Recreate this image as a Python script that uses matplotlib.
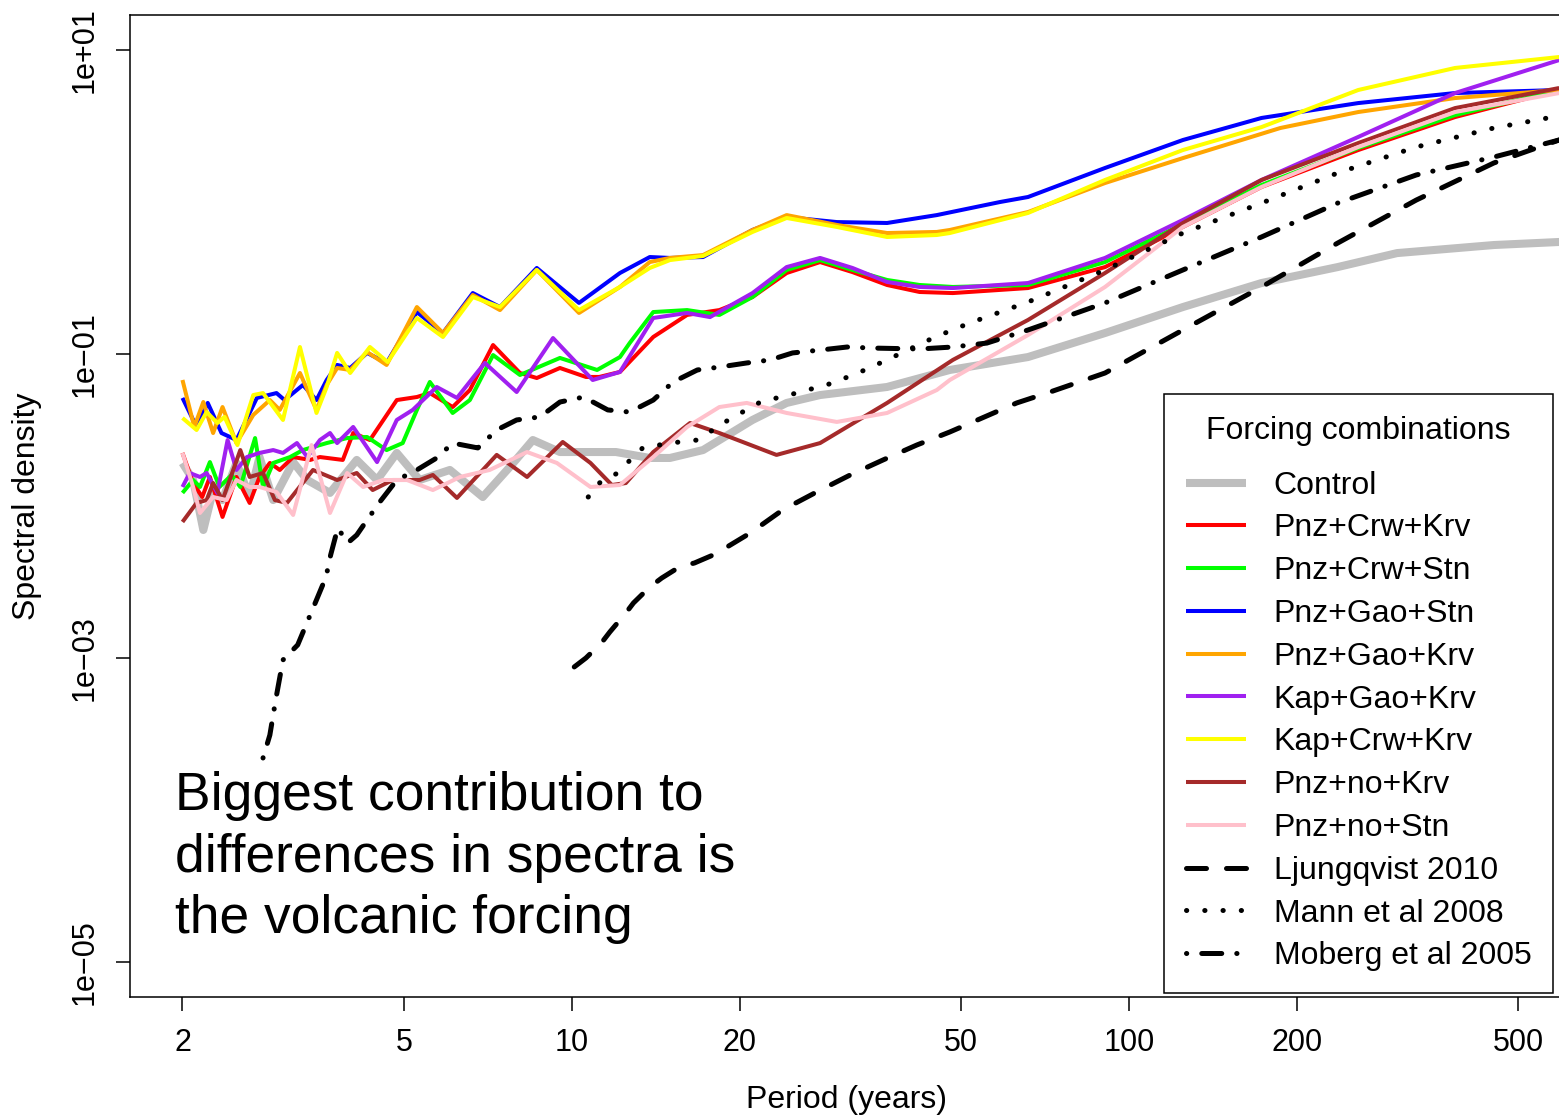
import numpy as np
import matplotlib
matplotlib.use('Agg')
import matplotlib.pyplot as plt
from matplotlib.ticker import NullLocator

plt.rcParams['font.family'] = ['Liberation Sans', 'DejaVu Sans']

# Periods (years) and log10 spectral density

ctrl_period = [2.00, 2.09, 2.18, 2.27, 2.36, 2.50, 2.64, 2.75, 2.91, 3.16, 3.35, 3.68, 4.11, 4.47,
               4.85, 5.33, 6.04, 6.92, 7.74, 8.51, 9.52, 10.8, 12.0, 13.8, 15.0, 17.2, 21.1, 24.3,
               27.9, 36.8, 47.7, 65.9, 90.6, 125, 173, 237, 303, 452, 592]
ctrl_log = [-1.717, -1.829, -2.158, -1.895, -1.961, -1.717, -1.941, -1.678, -1.961, -1.711, -1.829,
            -1.914, -1.697, -1.829, -1.651, -1.829, -1.763, -1.941, -1.743, -1.566, -1.645, -1.645,
            -1.645, -1.684, -1.684, -1.632, -1.434, -1.322, -1.270, -1.217, -1.105, -1.020, -0.862,
            -0.691, -0.533, -0.428, -0.336, -0.283, -0.263]

pck_period = [2.00, 2.09, 2.17, 2.24, 2.36, 2.50, 2.64, 2.75, 2.87, 2.99, 3.16, 3.39, 3.53, 3.88,
              4.05, 4.34, 4.85, 5.27, 5.56, 6.11, 6.56, 7.22, 8.07, 8.65, 9.52, 10.6, 11.2, 12.2,
              14.0, 16.1, 18.4, 21.1, 24.3, 27.9, 31.9, 36.8, 42.1, 48.3, 65.9, 90.6, 125, 173,
              258, 385, 592]
pck_log = [-1.651, -1.849, -1.941, -1.809, -2.072, -1.809, -1.980, -1.809, -1.717, -1.763, -1.678,
           -1.697, -1.678, -1.697, -1.520, -1.566, -1.303, -1.283, -1.257, -1.349, -1.237, -0.941,
           -1.125, -1.158, -1.092, -1.151, -1.151, -1.118, -0.888, -0.743, -0.711, -0.625, -0.467,
           -0.395, -0.461, -0.546, -0.592, -0.599, -0.566, -0.428, -0.164, 0.099, 0.342, 0.559, 0.737]

pcs_period = [2.00, 2.09, 2.15, 2.24, 2.33, 2.45, 2.54, 2.70, 2.79, 2.91, 3.12, 3.29, 3.63, 3.95,
              4.29, 4.65, 4.97, 5.27, 5.56, 6.11, 6.56, 7.22, 8.07, 9.52, 11.1, 12.2, 12.7, 14.0,
              16.1, 18.4, 21.1, 24.3, 27.9, 31.9, 36.8, 42.1, 48.3, 65.9, 90.6, 125, 173, 258, 385, 592]
pcs_log = [-1.914, -1.829, -1.875, -1.711, -1.875, -1.796, -1.875, -1.553, -1.875, -1.717, -1.678,
           -1.632, -1.586, -1.553, -1.546, -1.632, -1.586, -1.368, -1.184, -1.388, -1.303, -1.007,
           -1.138, -1.026, -1.105, -1.020, -0.928, -0.724, -0.711, -0.743, -0.625, -0.447, -0.382,
           -0.447, -0.513, -0.546, -0.559, -0.546, -0.395, -0.145, 0.112, 0.355, 0.572, 0.737]

pgs_period = [2.00, 2.12, 2.22, 2.35, 2.50, 2.72, 2.95, 3.05, 3.29, 3.48, 3.63, 3.79, 4.00, 4.29,
              4.65, 5.27, 5.87, 6.64, 7.43, 8.65, 10.3, 12.2, 13.8, 15.0, 17.2, 21.1, 24.3, 29.9,
              36.8, 45.2, 58.7, 65.9, 90.6, 125, 173, 258, 385, 592]
pgs_log = [-1.289, -1.480, -1.322, -1.520, -1.566, -1.289, -1.257, -1.303, -1.204, -1.303, -1.171,
           -1.072, -1.092, -0.993, -1.059, -0.724, -0.862, -0.599, -0.691, -0.434, -0.664, -0.467,
           -0.362, -0.368, -0.362, -0.184, -0.099, -0.132, -0.138, -0.086, 0.0, 0.033, 0.224, 0.408,
           0.553, 0.651, 0.717, 0.737]

pgk_period = [2.00, 2.10, 2.18, 2.27, 2.36, 2.50, 2.68, 2.87, 2.99, 3.25, 3.48, 3.63, 3.79, 4.00,
              4.29, 4.65, 5.27, 5.87, 6.64, 7.43, 8.65, 10.3, 12.2, 13.8, 15.0, 17.2, 21.1, 24.3,
              29.9, 36.8, 45.2, 47.7, 65.9, 90.6, 125, 187, 258, 385, 592]
pgk_log = [-1.171, -1.480, -1.316, -1.520, -1.349, -1.586, -1.401, -1.303, -1.368, -1.125, -1.368,
           -1.204, -1.092, -1.105, -0.987, -1.072, -0.691, -0.862, -0.612, -0.711, -0.447, -0.730,
           -0.559, -0.395, -0.368, -0.349, -0.184, -0.086, -0.151, -0.204, -0.197, -0.184, -0.066,
           0.125, 0.289, 0.487, 0.592, 0.684, 0.737]

kgk_period = [2.00, 2.06, 2.15, 2.21, 2.31, 2.41, 2.50, 2.61, 2.75, 2.91, 3.03, 3.21, 3.35, 3.53,
              3.68, 3.79, 4.05, 4.47, 4.85, 5.18, 5.72, 6.22, 6.75, 6.98, 7.96, 9.25, 10.9, 12.2,
              14.0, 16.1, 17.7, 21.1, 24.3, 27.9, 31.9, 36.8, 42.1, 48.3, 65.9, 90.6, 125, 173, 258,
              385, 592]
kgk_log = [-1.875, -1.783, -1.809, -1.783, -1.914, -1.566, -1.763, -1.678, -1.651, -1.632, -1.651,
           -1.586, -1.678, -1.566, -1.520, -1.586, -1.480, -1.711, -1.434, -1.368, -1.217, -1.289,
           -1.125, -1.059, -1.250, -0.895, -1.171, -1.118, -0.763, -0.730, -0.757, -0.599, -0.428,
           -0.368, -0.434, -0.526, -0.559, -0.566, -0.533, -0.368, -0.118, 0.145, 0.428, 0.717, 0.934]

kck_period = [2.00, 2.12, 2.21, 2.31, 2.38, 2.51, 2.68, 2.79, 3.03, 3.25, 3.48, 3.63, 3.79, 4.00,
              4.34, 4.67, 5.27, 5.87, 6.64, 7.43, 8.65, 10.3, 12.2, 13.8, 15.0, 17.2, 21.1, 24.3,
              29.9, 36.8, 45.2, 47.7, 65.9, 90.6, 125, 173, 258, 385, 592]
kck_log = [-1.421, -1.500, -1.382, -1.454, -1.414, -1.599, -1.270, -1.257, -1.434, -0.954, -1.388,
           -1.217, -0.993, -1.125, -0.954, -1.053, -0.763, -0.888, -0.625, -0.691, -0.447, -0.711,
           -0.559, -0.434, -0.382, -0.355, -0.197, -0.105, -0.164, -0.230, -0.217, -0.204, -0.072,
           0.145, 0.342, 0.493, 0.737, 0.882, 0.954]

pnk_period = [2.00, 2.12, 2.21, 2.27, 2.36, 2.54, 2.64, 2.79, 2.93, 3.08, 3.43, 3.79, 4.11, 4.39,
              4.77, 5.33, 5.63, 6.22, 7.33, 8.31, 9.63, 10.8, 11.8, 12.5, 14.0, 16.3, 18.4, 23.3,
              27.9, 36.8, 48.3, 65.9, 90.6, 125, 173, 258, 385, 592]
pnk_log = [-2.105, -1.980, -1.961, -1.849, -1.961, -1.632, -1.809, -1.783, -1.961, -1.980, -1.763,
           -1.829, -1.783, -1.895, -1.829, -1.829, -1.796, -1.947, -1.664, -1.809, -1.579, -1.717,
           -1.862, -1.849, -1.645, -1.454, -1.520, -1.664, -1.586, -1.322, -1.039, -0.776, -0.467,
           -0.138, 0.145, 0.388, 0.618, 0.750]

pns_period = [2.00, 2.09, 2.15, 2.27, 2.40, 2.50, 2.64, 2.75, 2.95, 3.16, 3.41, 3.68, 3.95, 4.22,
              4.58, 5.06, 5.63, 6.30, 7.12, 8.31, 9.40, 10.8, 12.2, 14.0, 16.1, 18.4, 20.6, 24.3,
              29.9, 36.8, 45.2, 47.7, 65.9, 90.6, 125, 173, 258, 385, 592]
pns_log = [-1.651, -1.875, -2.046, -1.941, -1.961, -1.829, -1.875, -1.875, -1.908, -2.059, -1.599,
           -2.046, -1.783, -1.875, -1.829, -1.829, -1.895, -1.809, -1.763, -1.645, -1.717, -1.875,
           -1.862, -1.678, -1.480, -1.349, -1.322, -1.388, -1.447, -1.388, -1.237, -1.171, -0.875,
           -0.559, -0.164, 0.099, 0.362, 0.592, 0.717]

ljung_period = [10.1, 10.6, 11.3, 11.7, 12.5, 12.9, 13.8, 14.5, 15.6, 16.6, 18.1, 20.9, 23.9, 27.5,
                31.6, 36.2, 41.6, 47.7, 62.9, 72.2, 90.6, 125, 173, 237, 328, 452, 592]
ljung_log = [-3.059, -3.000, -2.901, -2.829, -2.704, -2.638, -2.533, -2.474, -2.401, -2.375, -2.316,
             -2.178, -2.026, -1.908, -1.796, -1.697, -1.599, -1.513, -1.322, -1.250, -1.125, -0.842,
             -0.559, -0.270, 0.013, 0.257, 0.408]

mann_period = [10.7, 11.2, 12.0, 13.4, 15.0, 16.8, 19.1, 21.8, 25.3, 29.4, 33.9, 39.1, 44.9, 51.8,
               65.9, 90.6, 125, 173, 237, 328, 452, 565]
mann_log = [-1.941, -1.849, -1.789, -1.618, -1.586, -1.566, -1.434, -1.316, -1.257, -1.191, -1.099,
            -0.993, -0.888, -0.796, -0.658, -0.447, -0.204, -0.007, 0.191, 0.362, 0.487, 0.553]

moberg_period = [2.79, 2.87, 2.94, 3.03, 3.22, 3.35, 3.48, 3.62, 3.69, 3.80, 3.96, 4.11, 4.29, 4.52,
                 4.85, 5.27, 5.72, 6.11, 6.78, 7.33, 7.96, 8.76, 9.52, 10.5, 11.6, 12.7, 14.0, 15.2,
                 16.8, 18.4, 20.6, 22.7, 24.9, 27.9, 31.2, 34.7, 42.1, 48.3, 55.6, 65.9, 90.6, 125,
                 173, 237, 328, 452, 592]
moberg_log = [-3.658, -3.507, -3.276, -3.013, -2.914, -2.763, -2.618, -2.467, -2.322, -2.145, -2.243,
              -2.191, -2.092, -1.974, -1.829, -1.763, -1.684, -1.586, -1.618, -1.500, -1.434, -1.414,
              -1.316, -1.283, -1.368, -1.382, -1.303, -1.184, -1.105, -1.086, -1.059, -1.039, -0.993,
              -0.974, -0.954, -0.961, -0.967, -0.954, -0.928, -0.842, -0.664, -0.447, -0.230, -0.007,
              0.178, 0.296, 0.408]

model_runs = [
    ('Control', ctrl_period, ctrl_log, '#BEBEBE', 5.8),
    ('Pnz+Crw+Krv', pck_period, pck_log, '#FF0000', 2.9),
    ('Pnz+Crw+Stn', pcs_period, pcs_log, '#00FF00', 2.9),
    ('Pnz+Gao+Stn', pgs_period, pgs_log, '#0000FF', 2.9),
    ('Pnz+Gao+Krv', pgk_period, pgk_log, '#FFA500', 2.9),
    ('Kap+Gao+Krv', kgk_period, kgk_log, '#A020F0', 2.9),
    ('Kap+Crw+Krv', kck_period, kck_log, '#FFFF00', 2.9),
    ('Pnz+no+Krv', pnk_period, pnk_log, '#A52A2A', 2.9),
    ('Pnz+no+Stn', pns_period, pns_log, '#FFC0CB', 2.9),
]
reconstructions = [
    ('Ljungqvist 2010', ljung_period, ljung_log, (0, (4, 4))),
    ('Mann et al 2008', mann_period, mann_log, (0, (0.05, 3.6))),
    ('Moberg et al 2005', moberg_period, moberg_log, (0, (0.05, 3, 4, 3))),
]

W, H = 1559, 1115
fig = plt.figure(figsize=(W / 100, H / 100), dpi=100)
ax = fig.add_axes([130 / W, 1 - 997 / H, (1562 - 130) / W, (997 - 15) / H])

for name, per, lg, col, lw in model_runs:
    ax.plot(per, 10 ** np.array(lg), color=col, lw=lw, label=name,
            solid_joinstyle='round', solid_capstyle='butt')
for name, per, lg, ls in reconstructions:
    ax.plot(per, 10 ** np.array(lg), color='black', lw=3.6, ls=ls, label=name,
            dash_capstyle='round')

ax.set_xscale('log')
ax.set_yscale('log')
ax.set_xlim(1.61, 599)
ax.set_ylim(5.88e-6, 17.0)

xt = [2, 5, 10, 20, 50, 100, 200, 500]
ax.set_xticks(xt)
ax.set_xticklabels([str(v) for v in xt])
yt = [1e1, 1e-1, 1e-3, 1e-5]
ax.set_yticks(yt)
ax.set_yticklabels(['1e+01', '1e\u221201', '1e\u221203', '1e\u221205'], rotation=90, va='center')
ax.xaxis.set_minor_locator(NullLocator())
ax.yaxis.set_minor_locator(NullLocator())
ax.tick_params(axis='both', labelsize=22, length=10, width=1.1, pad=12)
for s in ax.spines.values():
    s.set_linewidth(1.1)

ax.set_xlabel('Period (years)', fontsize=23, labelpad=20)
ax.set_ylabel('Spectral density', fontsize=23, labelpad=20)

fig.text(175 / W, 1 - 771 / H,
         'Biggest contribution to\ndifferences in spectra is\nthe volcanic forcing',
         fontsize=38.4, va='top', ha='left', linespacing=1.30)

leg = ax.legend(loc='lower right', bbox_to_anchor=(1553 / W, 1 - 993 / H),
                bbox_transform=fig.transFigure, borderaxespad=0,
                title='Forcing combinations', title_fontsize=23, fontsize=23,
                frameon=True, fancybox=False, edgecolor='black', framealpha=1,
                handlelength=1.9, handletextpad=0.85, labelspacing=0.40, borderpad=0.68)
leg.get_frame().set_linewidth(1.1)
# a wider gap under the legend title, as in the original
leg._legend_box.sep = 0.40 * 23 + 8.6

fig.savefig('out.png', dpi=100)
